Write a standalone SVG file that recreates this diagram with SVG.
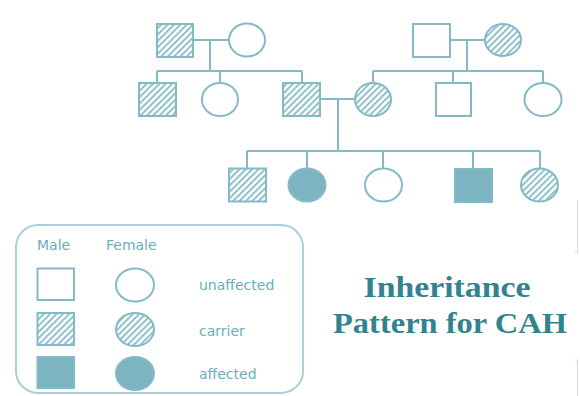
<svg xmlns="http://www.w3.org/2000/svg" width="580" height="396" viewBox="0 0 580 396">
<defs>
<pattern id="hatch" width="4.5" height="4.5" patternUnits="userSpaceOnUse" patternTransform="rotate(45)">
<rect width="4.5" height="4.5" fill="#ffffff"/>
<rect x="0" y="0" width="2" height="4.5" fill="#8fc1cb"/>
</pattern>
</defs>
<style>
.sh{stroke:#84bac6;stroke-width:2}
.un{fill:#ffffff}
.ca{fill:url(#hatch)}
.af{fill:#7db4c1}
.ln{stroke:#84bac6;stroke-width:2;fill:none}
.lg{font-family:"DejaVu Sans",sans-serif;font-size:14px;fill:#6aaebb}
.ti{font-family:"Liberation Serif",serif;font-weight:bold;font-size:29px;fill:#33838f}
</style>
<rect width="580" height="396" fill="#ffffff"/>
<g id="connectors">
<path class="ln" d="M193 40H229M210 40V71M157 71H302M157 71V83M220 71V83M302 71V83"/>
<path class="ln" d="M450 40H485M467 40V71M373 71H543M373 71V83M453 71V83M543 71V83"/>
<path class="ln" d="M320 99H355M338 99V151M247 151H540M247 151V168M307 151V168M383 151V168M473 151V168M540 151V168"/>
</g>
<g id="gp1"><rect class="sh ca" x="157" y="24" width="36" height="33"/></g>
<g id="gm1"><ellipse class="sh un" cx="247" cy="40" rx="18" ry="16.5"/></g>
<g id="gp2"><rect class="sh un" x="413" y="24" width="37" height="33"/></g>
<g id="gm2"><ellipse class="sh ca" cx="503" cy="40" rx="18" ry="16"/></g>
<g id="p1"><rect class="sh ca" x="139" y="83" width="37" height="33"/></g>
<g id="p2"><ellipse class="sh un" cx="220" cy="99.5" rx="18" ry="16.5"/></g>
<g id="father"><rect class="sh ca" x="283" y="83" width="37" height="33"/></g>
<g id="mother"><ellipse class="sh ca" cx="373" cy="99.5" rx="18" ry="16.5"/></g>
<g id="p5"><rect class="sh un" x="436" y="83" width="35" height="33"/></g>
<g id="p6"><ellipse class="sh un" cx="543" cy="99.5" rx="18.5" ry="16.5"/></g>
<g id="c1"><rect class="sh ca" x="229" y="168.5" width="37" height="33"/></g>
<g id="c2"><ellipse class="sh af" cx="307" cy="185" rx="18.5" ry="16.5"/></g>
<g id="c3"><ellipse class="sh un" cx="383.5" cy="185" rx="18.5" ry="16.5"/></g>
<g id="c4"><rect class="sh af" x="455" y="169" width="37" height="33"/></g>
<g id="c5"><ellipse class="sh ca" cx="539.5" cy="185" rx="18.5" ry="16.5"/></g>
<g id="legend">
<rect x="16" y="225" width="287" height="168" rx="22" fill="none" stroke="#a8d0d8" stroke-width="2"/>
<text class="lg" x="37" y="250">Male</text>
<text class="lg" x="106" y="250">Female</text>
<rect class="sh un" x="37.5" y="268.5" width="36.5" height="31.5"/>
<ellipse class="sh un" cx="135" cy="285" rx="19" ry="16.5"/>
<text class="lg" x="199" y="290">unaffected</text>
<rect class="sh ca" x="37.5" y="313" width="36.5" height="32"/>
<ellipse class="sh ca" cx="135" cy="329.5" rx="19" ry="16.5"/>
<text class="lg" x="199" y="336">carrier</text>
<rect class="sh af" x="37.5" y="357" width="36.5" height="31"/>
<ellipse class="sh af" cx="135" cy="373.5" rx="19" ry="16.5"/>
<text class="lg" x="199" y="379">affected</text>
</g>
<g id="title">
<text class="ti" x="447" y="297" text-anchor="middle" textLength="167" lengthAdjust="spacingAndGlyphs">Inheritance</text>
<text class="ti" x="450" y="333" text-anchor="middle" textLength="234" lengthAdjust="spacingAndGlyphs">Pattern for CAH</text>
</g>
<path d="M577.5 200V252.5H575M577.5 396V360H575" fill="none" stroke="#d8d8d8" stroke-width="1"/>
</svg>
